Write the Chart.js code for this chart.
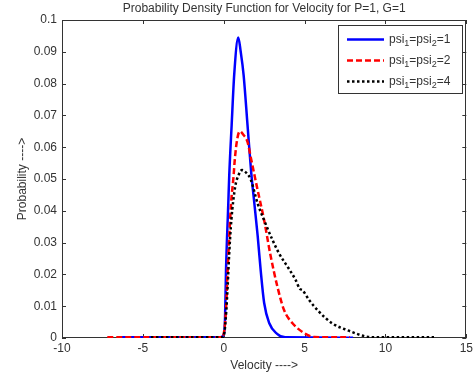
<!DOCTYPE html>
<html><head><meta charset="utf-8">
<script src="https://cdn.jsdelivr.net/npm/chart.js@4/dist/chart.umd.min.js"></script>
<style>html,body{margin:0;padding:0;background:#fff}#wrap{width:476px;height:375px}</style>
</head><body><div id="wrap"><canvas id="c" width="476" height="375"></canvas></div>
<script>
const titleText = 'Probability Density Function for Velocity for P=1, G=1';
const xLabel = 'Velocity ---->';
const yLabel = 'Probability ---->';
const seriesNames = ['psi_1=psi_2=1', 'psi_1=psi_2=2', 'psi_1=psi_2=4'];
const seriesColors = ['#0000ff', '#ff0000', '#000000'];

const vel1 = [-6.5, -3, -0.2, 0, 0.08, 0.14, 0.28, 0.34, 0.49, 0.65, 0.9, 1.05, 1.23, 1.47, 1.7, 1.9, 2.1, 2.29, 2.5, 2.81, 3.3, 3.8, 8];
const prob1 = [0.0002, 0.0002, 0.0002, 0.001, 0.006, 0.021, 0.042, 0.051, 0.067, 0.083, 0.0945, 0.09, 0.0827, 0.067, 0.052, 0.042, 0.032, 0.021, 0.011, 0.0047, 0.0013, 0.0002, 0.0001];

const vel2 = [-7.2, -3, -0.1, 0.05, 0.15, 0.24, 0.45, 0.61, 0.69, 0.85, 1.0, 1.2, 1.47, 1.68, 2.05, 2.5, 2.87, 3.32, 3.73, 4.24, 4.96, 5.6, 7.8];
const prob2 = [0.0002, 0.0002, 0.0002, 0.003, 0.01, 0.021, 0.042, 0.051, 0.0565, 0.063, 0.065, 0.064, 0.0617, 0.0566, 0.0476, 0.037, 0.0266, 0.0161, 0.0088, 0.0047, 0.0016, 0.0003, 0.0002];

const vel3 = [-4.5, -0.1, 0.05, 0.15, 0.24, 0.34, 0.47, 0.71, 0.9, 1.13, 1.4, 1.68, 2.09, 2.5, 3.0, 3.42, 4.0, 4.45, 4.7, 4.88, 5.27, 5.89, 6.71, 7.73, 8.76, 9.5, 13];
const prob3 = [0.0002, 0.0002, 0.002, 0.008, 0.016, 0.0266, 0.037, 0.0476, 0.051, 0.0528, 0.0519, 0.0497, 0.0424, 0.037, 0.031, 0.0266, 0.022, 0.0182, 0.0155, 0.015, 0.012, 0.0083, 0.0046, 0.0023, 0.0005, 0.0002, 0.0002];

const xTicks = [-10, -5, 0, 5, 10, 15];
const yTicks = [0, 0.01, 0.02, 0.03, 0.04, 0.05, 0.06, 0.07, 0.08, 0.09, 0.1];

const velSets = [vel1, vel2, vel3];
const probSets = [prob1, prob2, prob3];
const dashSets = [[], [6, 3], [2.5, 2.5]];

const TXT = '#333';
const FONT = 'Arial, "Liberation Sans", Helvetica, sans-serif';

const boxTicks = {
  id: 'boxTicks',
  beforeDatasetsDraw(chart) {
    const {ctx, chartArea: a, scales: {x, y}} = chart;
    ctx.save();
    ctx.strokeStyle = TXT;
    ctx.lineWidth = 1;
    ctx.strokeRect(Math.round(a.left) + 0.5, Math.round(a.top) + 0.5, Math.round(a.right - a.left) - 1, Math.round(a.bottom - a.top) - 1);
    const L = 4;
    ctx.beginPath();
    xTicks.forEach(v => {
      const px = Math.round(x.getPixelForValue(v)) + 0.5;
      ctx.moveTo(px, a.bottom); ctx.lineTo(px, a.bottom - L);
      ctx.moveTo(px, a.top); ctx.lineTo(px, a.top + L);
    });
    yTicks.forEach(v => {
      const py = Math.round(y.getPixelForValue(v)) + 0.5;
      ctx.moveTo(a.left, py); ctx.lineTo(a.left + L, py);
      ctx.moveTo(a.right, py); ctx.lineTo(a.right - L, py);
    });
    ctx.stroke();
    ctx.restore();
  }
};

const subLegend = {
  id: 'subLegend',
  afterDraw(chart) {
    const {ctx} = chart;
    const bx = 338, by = 25, bw = 124, bh = 68;
    ctx.save();
    ctx.fillStyle = '#fff';
    ctx.fillRect(bx, by, bw, bh);
    ctx.strokeStyle = TXT;
    ctx.lineWidth = 1;
    ctx.strokeRect(bx + 0.5, by + 0.5, bw, bh);
    const rows = [39.5, 60.5, 81.5];
    chart.data.datasets.forEach((ds, i) => {
      const ry = rows[i];
      ctx.beginPath();
      ctx.setLineDash(ds.borderDash || []);
      ctx.strokeStyle = ds.borderColor;
      ctx.lineWidth = ds.borderWidth;
      ctx.moveTo(347, ry); ctx.lineTo(384, ry);
      ctx.stroke();
      ctx.setLineDash([]);
      const parts = ds.label.split(/_(\d)/);
      let tx = 389;
      ctx.fillStyle = TXT;
      ctx.textBaseline = 'middle';
      ctx.textAlign = 'left';
      parts.forEach((p, k) => {
        if (k % 2 === 1) {
          ctx.font = '9px ' + FONT;
          ctx.fillText(p, tx, ry + 4);
        } else {
          ctx.font = '12px ' + FONT;
          ctx.fillText(p, tx, ry);
        }
        tx += ctx.measureText(p).width;
      });
    });
    ctx.restore();
  }
};

new Chart(document.getElementById('c'), {
  type: 'line',
  data: {
    datasets: seriesNames.map((name, i) => ({
      label: name,
      data: velSets[i].map((v, j) => ({x: v, y: probSets[i][j]})),
      borderColor: seriesColors[i],
      borderWidth: 2.5,
      borderDash: dashSets[i],
      pointRadius: 0,
      fill: false,
      order: 3 - i,
      cubicInterpolationMode: 'monotone'
    }))
  },
  options: {
    responsive: false,
    animation: false,
    devicePixelRatio: 1,
    layout: {padding: {left: 0, right: 8, top: 0, bottom: 0}},
    plugins: {
      legend: {display: false},
      tooltip: {enabled: false},
      title: {
        display: true, text: titleText, color: TXT, fullSize: false,
        font: {family: FONT, size: 12, weight: 'normal'},
        padding: {top: 1, bottom: 4.6}
      }
    },
    scales: {
      x: {
        type: 'linear', min: -10, max: 15,
        afterFit(s) { s.height = 37; },
        afterBuildTicks(s) { s.ticks = xTicks.map(v => ({value: v})); },
        grid: {display: false, drawTicks: false},
        border: {display: false},
        ticks: {color: TXT, font: {family: FONT, size: 12}, padding: 3, maxRotation: 0},
        title: {display: true, text: xLabel, color: TXT, font: {family: FONT, size: 12}, padding: {top: 0, bottom: 2}}
      },
      y: {
        type: 'linear', min: 0, max: 0.1,
        afterFit(s) { s.width = 62; },
        afterBuildTicks(s) { s.ticks = yTicks.map(v => ({value: v})); },
        grid: {display: false, drawTicks: false},
        border: {display: false},
        ticks: {color: TXT, font: {family: FONT, size: 12}, padding: 5, callback: v => String(+v.toFixed(2))},
        title: {display: true, text: yLabel, color: TXT, font: {family: FONT, size: 12}, padding: {top: 15, bottom: 0}}
      }
    }
  },
  plugins: [boxTicks, subLegend]
});
</script>
</body></html>
